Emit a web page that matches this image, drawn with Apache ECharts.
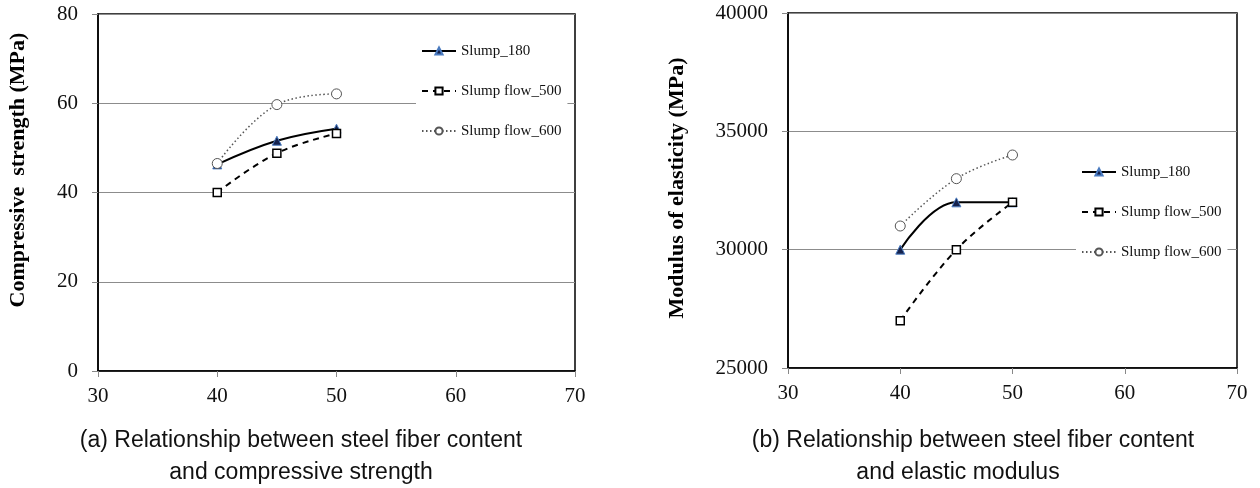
<!DOCTYPE html>
<html>
<head>
<meta charset="utf-8">
<script src="https://cdn.jsdelivr.net/npm/echarts@6/dist/echarts.min.js"></script>
<style>
  html, body { margin: 0; padding: 0; background: #fff; }
  #chart { width: 1260px; height: 488px; }
</style>
</head>
<body>
<div id="chart"></div>
<script>
// steel fiber content (x values)
const fiberContent = [40, 45, 50];
// (a) compressive strength, MPa
const strength180 = [46.3, 51.6, 54.3];
const strength500 = [40.0, 48.8, 53.2];
const strength600 = [46.5, 59.7, 62.1];
// (b) modulus of elasticity, MPa
const modulus180 = [30000, 32000, 32000];
const modulus500 = [27000, 30000, 32000];
const modulus600 = [31000, 33000, 34000];
const seriesNames = ['Slump_180', 'Slump flow_500', 'Slump flow_600'];

const chart = echarts.init(document.getElementById('chart'));

function pairs(ys) {
  return fiberContent.map(function (x, i) { return [x, ys[i]]; });
}

const serif = "'Liberation Serif', 'Times New Roman', serif";
const sans = "'Liberation Sans', Arial, sans-serif";

function tickLabel(margin) {
  return {
    margin: margin, fontFamily: serif, fontSize: 21, color: '#111',
    formatter: function (v) { return String(v); }
  };
}

function xAxisFor(gi) {
  return {
    type: 'value', gridIndex: gi, min: 30, max: 70, interval: 10,
    axisLine: { show: true, lineStyle: { color: '#000', width: 1.5 } },
    axisTick: { show: true, length: 6, lineStyle: { color: '#888' } },
    axisLabel: tickLabel(15),
    splitLine: { show: false }
  };
}
function yAxisFor(gi, min, max, interval) {
  return {
    type: 'value', gridIndex: gi, min: min, max: max, interval: interval,
    axisLine: { show: true, lineStyle: { color: '#000', width: 1.5 } },
    axisTick: { show: true, length: 6, lineStyle: { color: '#888' } },
    axisLabel: tickLabel(20),
    splitLine: { show: true, lineStyle: { color: '#8c8c8c', width: 1 } }
  };
}

// line looks for the three series
const looks = [
  { symbol: 'triangle', symbolSize: 9, itemStyle: { color: '#15224d', borderColor: '#4a7bc0', borderWidth: 1 },
    lineStyle: { color: '#000', width: 2, type: 'solid' } },
  { symbol: 'rect', symbolSize: 8, itemStyle: { color: '#fff', borderColor: '#000', borderWidth: 1.5 },
    lineStyle: { color: '#000', width: 2, type: [6, 5] } },
  { symbol: 'circle', symbolSize: 10, itemStyle: { color: '#fff', borderColor: '#555', borderWidth: 1 },
    lineStyle: { color: '#555', width: 1.5, type: [1.5, 2.5] } }
];

function makeSeries(gi, name, ys, k) {
  return Object.assign({
    name: name, type: 'line', xAxisIndex: gi, yAxisIndex: gi,
    data: pairs(ys), smooth: 0.4, showAllSymbol: true
  }, looks[k]);
}

function legendFor(gi, left, top) {
  return {
    show: true, orient: 'vertical', left: left, top: top,
    backgroundColor: '#fff', padding: [10, 6, 10, 5],
    itemWidth: 34, itemHeight: 9, itemGap: 24,
    data: seriesNames.map(function (n) { return { name: n }; }),
    textStyle: { fontFamily: serif, fontSize: 15, color: '#111', lineHeight: 16 },
    selectedMode: false
  };
}

function caption(text, x, y) {
  return { type: 'text', x: x, y: y,
    style: { text: text, font: '23px ' + sans, fill: '#111',
             align: 'center', verticalAlign: 'middle', textAlign: 'center', textVerticalAlign: 'middle' } };
}
function yTitle(text, x, y) {
  return { type: 'text', x: x, y: y, rotation: Math.PI / 2,
    style: { text: text, font: 'bold 22px ' + serif, fill: '#000',
             align: 'center', verticalAlign: 'middle', textAlign: 'center', textVerticalAlign: 'middle' } };
}

const option = {
  animation: false,
  backgroundColor: '#fff',
  grid: [
    { left: 98, top: 14, width: 477, height: 357, show: true, borderColor: '#000', borderWidth: 1.5 },
    { left: 788, top: 13, width: 449, height: 355, show: true, borderColor: '#000', borderWidth: 1.5 }
  ],
  xAxis: [xAxisFor(0), xAxisFor(1)],
  yAxis: [yAxisFor(0, 0, 80, 20), yAxisFor(1, 25000, 40000, 5000)],
  legend: [legendFor(0, 416, 33), legendFor(1, 1076, 154)],
  series: [
    makeSeries(0, seriesNames[0], strength180, 0),
    makeSeries(0, seriesNames[1], strength500, 1),
    makeSeries(0, seriesNames[2], strength600, 2),
    makeSeries(1, seriesNames[0], modulus180, 0),
    makeSeries(1, seriesNames[1], modulus500, 1),
    makeSeries(1, seriesNames[2], modulus600, 2)
  ],
  graphic: [
    yTitle('Compressive  strength (MPa)', 18, 170),
    yTitle('Modulus of elasticity (MPa)', 677, 188),
    caption('(a) Relationship between steel fiber content', 301, 441),
    caption('and compressive strength', 301, 473),
    caption('(b) Relationship between steel fiber content', 973, 441),
    caption('and elastic modulus', 958, 473)
  ]
};

chart.setOption(option);
</script>
</body>
</html>
